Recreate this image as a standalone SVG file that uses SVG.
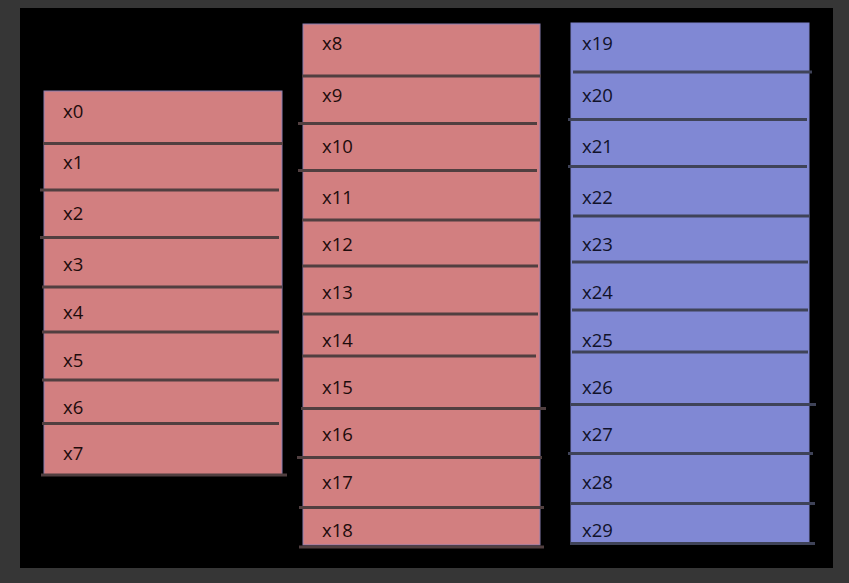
<svg xmlns="http://www.w3.org/2000/svg" width="849" height="583" viewBox="0 0 849 583">
<style>
.red{fill:#d27f80;stroke:#8a7fb0;stroke-width:1}
.blue{fill:#8088d4;stroke:#7b80c8;stroke-width:1}
.rl{stroke:#513f40;stroke-width:3}
.bl{stroke:#3f4358;stroke-width:3}
text{font-family:"Open Sans","Liberation Sans",sans-serif;font-size:18.5px}
.rt{fill:#1e0c0c}
.bt{fill:#11122a}
</style>
<rect x="0" y="0" width="849" height="583" fill="#363636"/>
<rect x="20" y="8" width="813" height="560" fill="#000"/>
<g id="col1">
<rect class="red" x="44" y="91" width="238" height="384"/>
<g id="x0"><text class="rt" x="63" y="118">x0</text><line class="rl" x1="43" y1="143.5" x2="283" y2="143.5"/></g>
<g id="x1"><text class="rt" x="63" y="169">x1</text><line class="rl" x1="40" y1="190" x2="279" y2="190"/></g>
<g id="x2"><text class="rt" x="63" y="220">x2</text><line class="rl" x1="40" y1="237.5" x2="279" y2="237.5"/></g>
<g id="x3"><text class="rt" x="63" y="271">x3</text><line class="rl" x1="42" y1="287" x2="282" y2="287"/></g>
<g id="x4"><text class="rt" x="63" y="319">x4</text><line class="rl" x1="42" y1="332" x2="279" y2="332"/></g>
<g id="x5"><text class="rt" x="63" y="367">x5</text><line class="rl" x1="42" y1="380" x2="279" y2="380"/></g>
<g id="x6"><text class="rt" x="63" y="414">x6</text><line class="rl" x1="42" y1="423.5" x2="279" y2="423.5"/></g>
<g id="x7"><text class="rt" x="63" y="460">x7</text><line class="rl" x1="41" y1="475" x2="287" y2="475"/></g>
</g>
<g id="col2">
<rect class="red" x="303" y="24" width="237" height="521"/>
<g id="x8"><text class="rt" x="322" y="50">x8</text><line class="rl" x1="302" y1="76" x2="541" y2="76"/></g>
<g id="x9"><text class="rt" x="322" y="102">x9</text><line class="rl" x1="298" y1="123.5" x2="537" y2="123.5"/></g>
<g id="x10"><text class="rt" x="322" y="153">x10</text><line class="rl" x1="298" y1="170.5" x2="537" y2="170.5"/></g>
<g id="x11"><text class="rt" x="322" y="204">x11</text><line class="rl" x1="302" y1="220" x2="541" y2="220"/></g>
<g id="x12"><text class="rt" x="322" y="251">x12</text><line class="rl" x1="302" y1="266" x2="538" y2="266"/></g>
<g id="x13"><text class="rt" x="322" y="299">x13</text><line class="rl" x1="302" y1="314" x2="538" y2="314"/></g>
<g id="x14"><text class="rt" x="322" y="347">x14</text><line class="rl" x1="302" y1="356" x2="536" y2="356"/></g>
<g id="x15"><text class="rt" x="322" y="394">x15</text><line class="rl" x1="301" y1="408.5" x2="546" y2="408.5"/></g>
<g id="x16"><text class="rt" x="322" y="441">x16</text><line class="rl" x1="297" y1="457.5" x2="542" y2="457.5"/></g>
<g id="x17"><text class="rt" x="322" y="489">x17</text><line class="rl" x1="299" y1="507.5" x2="544" y2="507.5"/></g>
<g id="x18"><text class="rt" x="322" y="537">x18</text><line class="rl" x1="299" y1="547" x2="544" y2="547"/></g>
</g>
<g id="col3">
<rect class="blue" x="571" y="23" width="238" height="520"/>
<g id="x19"><text class="bt" x="582" y="50">x19</text><line class="bl" x1="573" y1="72" x2="812" y2="72"/></g>
<g id="x20"><text class="bt" x="582" y="102">x20</text><line class="bl" x1="568" y1="119.5" x2="807" y2="119.5"/></g>
<g id="x21"><text class="bt" x="582" y="153">x21</text><line class="bl" x1="568" y1="166.5" x2="807" y2="166.5"/></g>
<g id="x22"><text class="bt" x="582" y="204">x22</text><line class="bl" x1="573" y1="216" x2="810" y2="216"/></g>
<g id="x23"><text class="bt" x="582" y="251">x23</text><line class="bl" x1="572" y1="262" x2="808" y2="262"/></g>
<g id="x24"><text class="bt" x="582" y="299">x24</text><line class="bl" x1="572" y1="310" x2="808" y2="310"/></g>
<g id="x25"><text class="bt" x="582" y="347">x25</text><line class="bl" x1="572" y1="352" x2="808" y2="352"/></g>
<g id="x26"><text class="bt" x="582" y="394">x26</text><line class="bl" x1="571" y1="404.5" x2="816" y2="404.5"/></g>
<g id="x27"><text class="bt" x="582" y="441">x27</text><line class="bl" x1="568" y1="453.5" x2="813" y2="453.5"/></g>
<g id="x28"><text class="bt" x="582" y="489">x28</text><line class="bl" x1="570" y1="503.5" x2="815" y2="503.5"/></g>
<g id="x29"><text class="bt" x="582" y="537">x29</text><line class="bl" x1="570" y1="543.5" x2="815" y2="543.5"/></g>
</g>
</svg>
